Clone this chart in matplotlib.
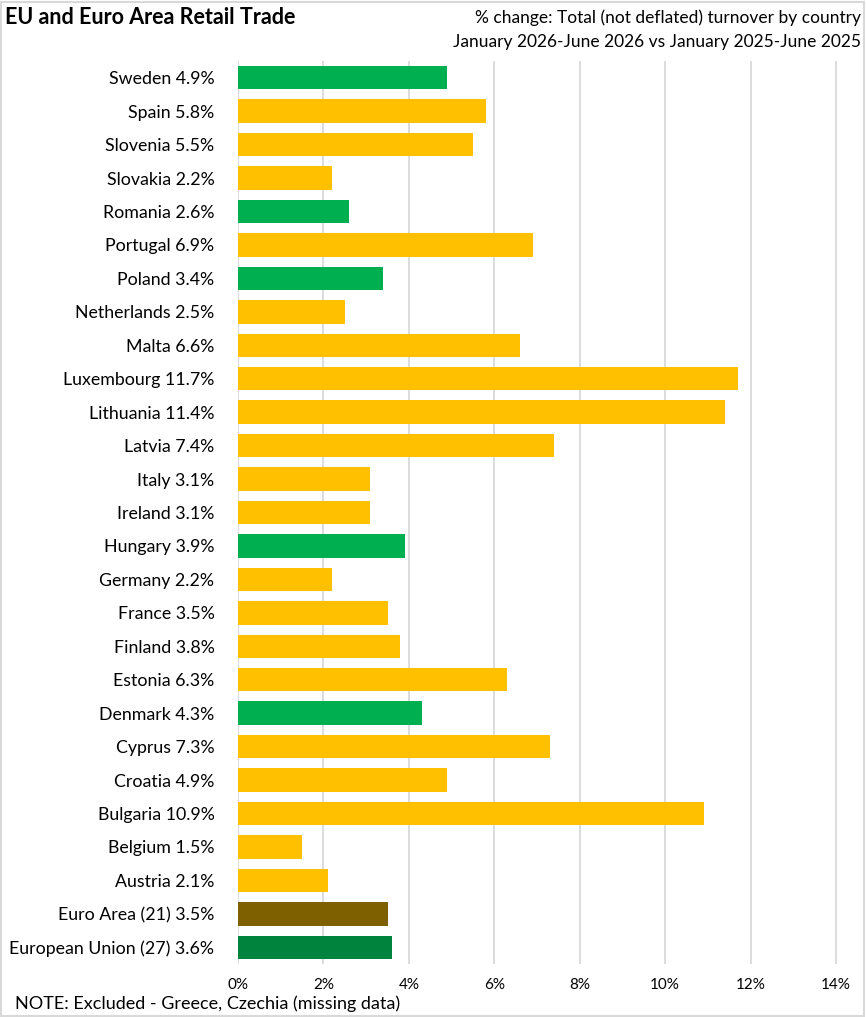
import numpy as np
import matplotlib.pyplot as plt

plt.rcParams['font.family'] = ['Lato', 'DejaVu Sans']

# top to bottom, as shown
countries = ["Sweden", "Spain", "Slovenia", "Slovakia", "Romania", "Portugal",
             "Poland", "Netherlands", "Malta", "Luxembourg", "Lithuania", "Latvia",
             "Italy", "Ireland", "Hungary", "Germany", "France", "Finland",
             "Estonia", "Denmark", "Cyprus", "Croatia", "Bulgaria", "Belgium",
             "Austria", "Euro Area (21)", "European Union (27)"]
values = [4.9, 5.8, 5.5, 2.2, 2.6, 6.9, 3.4, 2.5, 6.6, 11.7, 11.4, 7.4,
          3.1, 3.1, 3.9, 2.2, 3.5, 3.8, 6.3, 4.3, 7.3, 4.9, 10.9, 1.5,
          2.1, 3.5, 3.6]
groups = ["non_euro", "euro", "euro", "euro", "non_euro", "euro",
          "non_euro", "euro", "euro", "euro", "euro", "euro",
          "euro", "euro", "non_euro", "euro", "euro", "euro",
          "euro", "non_euro", "euro", "euro", "euro", "euro",
          "euro", "ea", "eu"]
group_colors = {"euro": "#FFC000", "non_euro": "#00B050",
                "ea": "#7F6000", "eu": "#00843D"}

x_ticks = [0, 2, 4, 6, 8, 10, 12, 14]


def main():
    fig = plt.figure(figsize=(8.66, 10.17), dpi=100)
    ax = fig.add_axes([238 / 866, 1 - 964 / 1017, (838 - 238) / 866, 903 / 1017])

    n = len(countries)
    y = np.arange(n)[::-1]
    colors = [group_colors[g] for g in groups]
    ax.barh(y, values, height=0.7, color=colors, zorder=3)

    labels = ["%s %.1f%%" % (c, v) for c, v in zip(countries, values)]
    ax.set_yticks(y)
    ax.set_yticklabels(labels, fontsize=12.8)
    ax.set_ylim(-0.5, n - 0.5)

    ax.set_xlim(0, 14 * 600 / 598)
    ax.set_xticks(x_ticks)
    ax.set_xticklabels(["%d%%" % t for t in x_ticks], fontsize=11)
    ax.tick_params(axis='y', length=0, pad=17)
    ax.tick_params(axis='x', length=0, pad=10)

    ax.grid(axis='x', color='#D9D9D9', linewidth=1.3, zorder=0)
    for s in ax.spines.values():
        s.set_visible(False)

    fig.text(5 / 866, 1 - 18 / 1017, "EU and Euro Area Retail Trade",
             fontsize=15.5, fontweight='bold', ha='left', va='center')
    fig.text(861 / 866, 1 - 18 / 1017,
             "% change: Total (not deflated) turnover by country",
             fontsize=12.5, ha='right', va='center')
    fig.text(861 / 866, 1 - 42 / 1017,
             "January 2026-June 2026 vs January 2025-June 2025",
             fontsize=12.5, ha='right', va='center')
    fig.text(15 / 866, 1 - 1004 / 1017,
             "NOTE: Excluded - Greece, Czechia (missing data)",
             fontsize=13, ha='left', va='center')

    # light frame round the picture
    fig.patches.append(plt.Rectangle((0.001, 0.001), 0.997, 0.997,
                                     transform=fig.transFigure, fill=False,
                                     edgecolor='#D9D9D9', linewidth=1.5))

    fig.savefig("out.png", dpi=100)


if __name__ == '__main__':
    main()
